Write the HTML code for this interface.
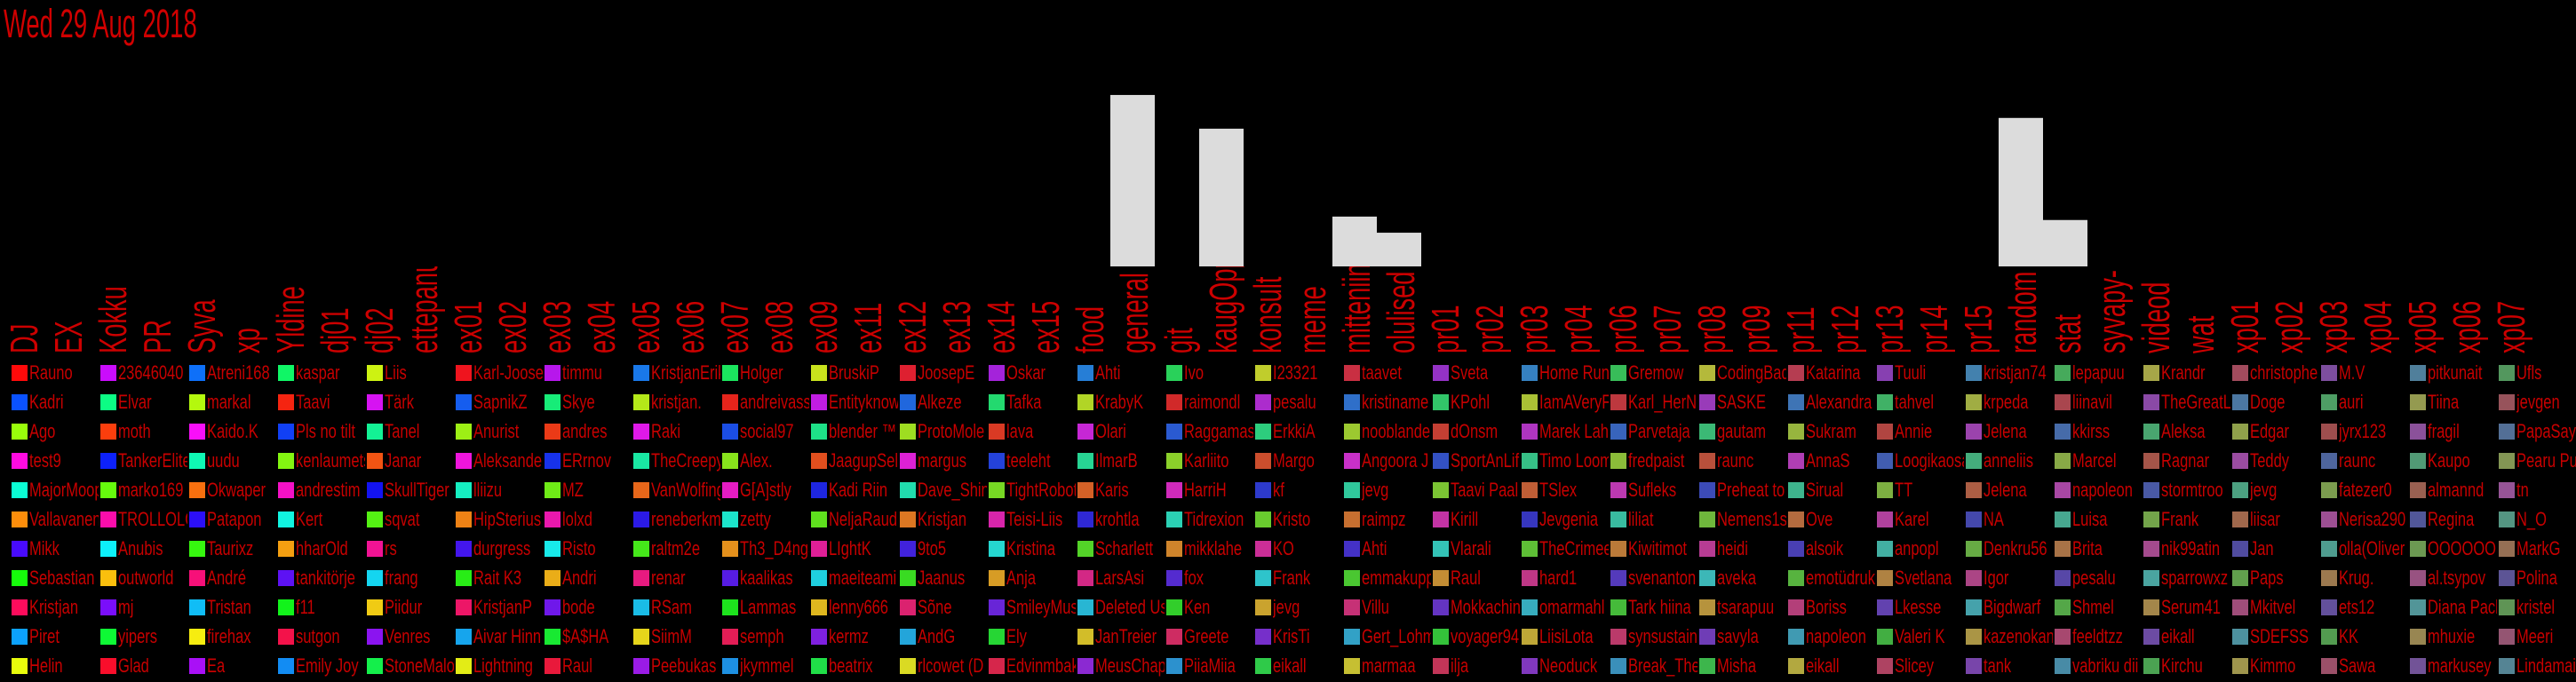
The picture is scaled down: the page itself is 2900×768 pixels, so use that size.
<!DOCTYPE html>
<html><head><meta charset="utf-8">
<style>
html,body{margin:0;padding:0;background:#000;width:2900px;height:768px;overflow:hidden;}
#root{position:relative;width:2900px;height:768px;background:#000;}
svg{position:absolute;left:0;top:0;}
.lg{position:absolute;height:26px;}
.sw{position:absolute;left:0;top:0;width:18px;height:18px;}
.lt{position:absolute;left:20px;top:-5px;width:78px;height:28px;overflow:hidden;white-space:nowrap;}
.lt span{display:inline-block;font-family:"Liberation Sans",sans-serif;font-size:22px;color:#c80000;transform:scaleX(0.75);transform-origin:0 0;line-height:28px;}
</style></head>
<body>
<div id="root">
<svg id="chart" width="2900" height="420">
  <defs><clipPath id="lblclip"><rect x="0" y="300" width="2900" height="110"/></clipPath></defs>
  <text x="4" y="42" font-family="Liberation Sans, sans-serif" font-size="45" fill="#d00000" transform="translate(4,0) scale(0.61,1) translate(-4,0)">Wed 29 Aug 2018</text>
  <g id="bars"></g>
  <g id="labels" clip-path="url(#lblclip)"></g>
</svg>
<div id="legend"></div>
</div>
<script>
const categories = ["DJ","EX","Kokku","PR","Syva","xp","Yldine","dj01","dj02","ettepanu","ex01","ex02","ex03","ex04","ex05","ex06","ex07","ex08","ex09","ex11","ex12","ex13","ex14","ex15","food","general","git","kaugOpp","konsult","meme","mitteniin","olulised","pr01","pr02","pr03","pr04","pr06","pr07","pr08","pr09","pr11","pr12","pr13","pr14","pr15","random","stat","syvapy-","videod","wat","xp01","xp02","xp03","xp04","xp05","xp06","xp07"];
const values = [0,0,0,0,0,0,0,0,0,0,0,0,0,0,0,0,0,0,0,0,0,0,0,0,0,35.1,0,28.2,0,0,10.2,6.9,0,0,0,0,0,0,0,0,0,0,0,0,0,30.4,9.5,0,0,0,0,0,0,0,0,0,0];
const legendNames = [
["Rauno","Kadri","Ago","test9","MajorMoop","Vallavanen","Mikk","Sebastian","Kristjan","Piret","Helin"],
["23646040","Elvar","moth","TankerElite","marko169","TROLLOLOL","Anubis","outworld","mj","yipers","Glad"],
["Atreni168","markal","Kaido.K","uudu","Okwaper","Patapon","Taurixz","André","Tristan","firehax","Ea"],
["kaspar","Taavi","Pls no tilt","kenlaumets","andrestim","Kert","hharOld","tankitörje","f11","sutgon","Emily Joy"],
["Liis","Tärk","Tanel","Janar","SkullTiger","sqvat","rs","frang","Piidur","Venres","StoneMalone"],
["Karl-Joosep","SapnikZ","Anurist","Aleksander","lliizu","HipSterius","durgress","Rait K3","KristjanP","Aivar Hinn","Lightning"],
["timmu","Skye","andres","ERrnov","MZ","lolxd","Risto","Andri","bode","$A$HA","Raul"],
["KristjanErik","kristjan.","Raki","TheCreepy","VanWolfing","reneberkmann","raltm2e","renar","RSam","SiimM","Peebukas"],
["Holger","andreivass","social97","Alex.","G[A]stly","zetty","Th3_D4ng3r","kaalikas","Lammas","semph","jkymmel"],
["BruskiP","Entityknow","blender ™","JaagupSel","Kadi Riin","NeljaRaudi","LIghtK","maeiteami","lenny666","kermz","beatrix"],
["JoosepE","Alkeze","ProtoMole","margus","Dave_Shin","Kristjan","9to5","Jaanus","Sõne","AndG","rlcowet (D"],
["Oskar","Tafka","lava","teeleht","TightRobot","Teisi-Liis","Kristina","Anja","SmileyMus","Ely","Edvinmbak"],
["Ahti","KrabyK","Olari","IlmarB","Karis","krohtla","Scharlett","LarsAsi","Deleted Us","JanTreier","MeusChap"],
["Ivo","raimondl","Raggamas","Karliito","HarriH","Tidrexion","mikklahe","fox","Ken","Greete","PiiaMiia"],
["I23321","pesalu","ErkkiA","Margo","kf","Kristo","KO","Frank","jevg","KrisTi","eikall"],
["taavet","kristiname","nooblander","Angoora J","jevg","raimpz","Ahti","emmakupp","Villu","Gert_Lohm","marmaa"],
["Sveta","KPohl","dOnsm","SportAnLif","Taavi Paal","Kirill","Vlarali","Raul","Mokkachin","voyager94","ilja"],
["Home Run","IamAVeryF","Marek Lah","Timo Loom","TSlex","Jevgenia","TheCrimee","hard1","omarmahl","LiisiLota","Neoduck"],
["Gremow","Karl_HerN","Parvetaja","fredpaist","Sufleks","liliat","Kiwitimot","svenanton","Tark hiina","synsustain","Break_The"],
["CodingBad","SASKE","gautam","raunc","Preheat to","Nemens1s","heidi","aveka","tsarapuu","savyla","Misha"],
["Katarina","Alexandra","Sukram","AnnaS","Sirual","Ove","alsoik","emotüdruk","Boriss","napoleon","eikall"],
["Tuuli","tahvel","Annie","Loogikaosa","TT","Karel","anpopl","Svetlana","Lkesse","Valeri K","Slicey"],
["kristjan74","krpeda","Jelena","anneliis","Jelena","NA","Denkru56","Igor","Bigdwarf","kazenokan","tank"],
["lepapuu","liinavil","kkirss","Marcel","napoleon","Luisa","Brita","pesalu","Shmel","feeldtzz","vabriku dii"],
["Krandr","TheGreatL","Aleksa","Ragnar","stormtroo","Frank","nik99atin","sparrowxz","Serum41","eikall","Kirchu"],
["christophe","Doge","Edgar","Teddy","jevg","liisar","Jan","Paps","Mkitvel","SDEFSS","Kimmo"],
["M.V","auri","jyrx123","raunc","fatezer0","Nerisa290","olla(Oliver","Krug.","ets12","KK","Sawa"],
["pitkunait","Tiina","fragil","Kaupo","almannd","Regina","OOOOOOI","al.tsypov","Diana Pacl","mhuxie","markusey"],
["Ufls","jevgen","PapaSay","Pearu Pu","tn","N_O","MarkG","Polina","kristel","Meeri","Lindamai"]
];

const NS = "http://www.w3.org/2000/svg";
const colW = 50, baseY = 300, pxPerUnit = 5.5;
function xScale(i){ return i * colW; }
function yScale(v){ return baseY - v * pxPerUnit; }

const barsG = document.getElementById('bars');
const labelsG = document.getElementById('labels');
categories.forEach((c, i) => {
  if (values[i] > 0) {
    const r = document.createElementNS(NS, 'rect');
    r.setAttribute('x', xScale(i));
    r.setAttribute('y', yScale(values[i]));
    r.setAttribute('width', colW);
    r.setAttribute('height', baseY - yScale(values[i]));
    r.setAttribute('fill', '#dcdcdc');
    
    
    barsG.appendChild(r);
  }
  const t = document.createElementNS(NS, 'text');
  t.setAttribute('transform', 'translate(' + (xScale(i) + 42) + ',398) rotate(-90) scale(0.62,1)');
  t.setAttribute('font-family', 'Liberation Sans, sans-serif');
  t.setAttribute('font-size', '44');
  t.setAttribute('fill', '#cc0000');
  t.textContent = c;
  
  
  labelsG.appendChild(t);
});

const legend = document.getElementById('legend');
legendNames.forEach((col, ci) => {
  col.forEach((name, ri) => {
    const n = ci * 11 + ri;
    const hue = (n * 222.5) % 360;
    const sat = Math.max(25, 100 - 0.23 * n);
    const lig = 52 - 0.02 * n;
    const d = document.createElement('div');
    d.className = 'lg';
    d.style.left = (13 + 100 * ci) + 'px';
    d.style.top = (411 + 33 * ri) + 'px';
    d.style.width = '100px';
    
    
    const sw = document.createElement('div');
    sw.className = 'sw';
    sw.style.background = 'hsl(' + hue + ',' + sat + '%,' + lig + '%)';
    
    
    const lt = document.createElement('div');
    lt.className = 'lt';
    const sp = document.createElement('span');
    sp.textContent = name;
    lt.appendChild(sp);
    
    
    d.appendChild(sw); d.appendChild(lt);
    legend.appendChild(d);
  });
});
</script>
</body></html>
